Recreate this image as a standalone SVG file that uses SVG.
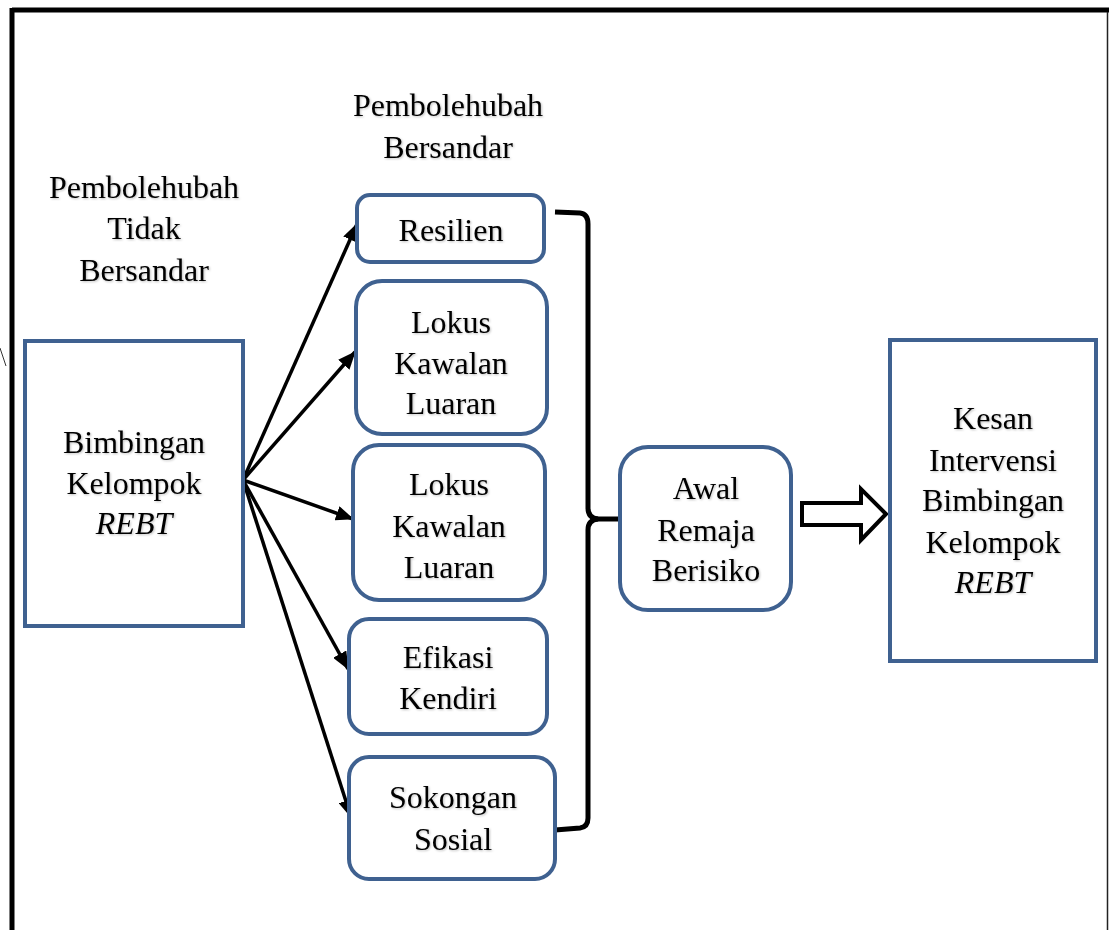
<svg xmlns="http://www.w3.org/2000/svg" width="1109" height="930" viewBox="0 0 1109 930">
<style>
.box{fill:#fff;stroke:#3F6190;stroke-width:4}
.t{font-family:"Liberation Serif","Times New Roman",serif;font-size:32px;fill:#000;text-anchor:middle;filter:url(#sh)}
.i{font-style:italic}
.con{stroke:#000;stroke-width:3.5;fill:none}
.brace{stroke:#000;stroke-width:5;fill:none}
</style>
<defs>
<filter id="sh" x="-10%" y="-30%" width="130%" height="160%">
<feDropShadow dx="1" dy="1" stdDeviation="1" flood-color="#000" flood-opacity="0.25"/>
</filter>
<marker id="ah2" markerWidth="18" markerHeight="15" refX="17" refY="7.5" orient="auto" markerUnits="userSpaceOnUse" viewBox="0 0 18 15">
<path d="M0,0 L18,7.5 L0,15 z" fill="#000"/>
</marker>
</defs>
<rect width="1109" height="930" fill="#fff"/>
<g id="frame">
<line x1="12" y1="10" x2="1109" y2="10" stroke="#000" stroke-width="5"/>
<line x1="12" y1="8" x2="12" y2="930" stroke="#000" stroke-width="5"/>
<line x1="1107.5" y1="12" x2="1107.5" y2="930" stroke="#222" stroke-width="1.5"/>
<line x1="0" y1="348" x2="6" y2="366" stroke="#333" stroke-width="1"/>
</g>
<g id="labels">
<text class="t" x="448" y="116">Pembolehubah</text>
<text class="t" x="448" y="158">Bersandar</text>
<text class="t" x="144" y="198">Pembolehubah</text>
<text class="t" x="144" y="239">Tidak</text>
<text class="t" x="144" y="281">Bersandar</text>
</g>
<g id="connectors">
<line class="con" x1="243" y1="480" x2="357" y2="224" marker-end="url(#ah2)"/>
<line class="con" x1="243" y1="480" x2="355" y2="352" marker-end="url(#ah2)"/>
<line class="con" x1="243" y1="480" x2="353" y2="519" marker-end="url(#ah2)"/>
<line class="con" x1="243" y1="480" x2="348" y2="669" marker-end="url(#ah2)"/>
<line class="con" x1="243" y1="480" x2="351" y2="817" marker-end="url(#ah2)"/>
<path class="brace" d="M555,212 L580,213 Q588,214 588,224 L588,508 Q588,518 598,519 Q588,520 588,530 L588,818 Q588,827 580,828 L555,830"/>
<line class="brace" x1="596" y1="519" x2="621" y2="519"/>
<path d="M802,503 L861,503 L861,489 L886,514 L861,540 L861,525 L802,525 Z" fill="#fff" stroke="#000" stroke-width="4" stroke-linejoin="miter"/>
</g>
<g id="n-bimbingan">
<rect class="box" x="25" y="341" width="218" height="285"/>
<text class="t" x="134" y="453">Bimbingan</text>
<text class="t" x="134" y="494">Kelompok</text>
<text class="t i" x="134" y="534">REBT</text>
</g>
<g id="n-resilien">
<rect class="box" x="357" y="195" width="187" height="67" rx="13"/>
<text class="t" x="451" y="241">Resilien</text>
</g>
<g id="n-lokus1">
<rect class="box" x="356" y="281" width="191" height="153" rx="26"/>
<text class="t" x="451" y="333">Lokus</text>
<text class="t" x="451" y="374">Kawalan</text>
<text class="t" x="451" y="414">Luaran</text>
</g>
<g id="n-lokus2">
<rect class="box" x="353" y="445" width="192" height="155" rx="26"/>
<text class="t" x="449" y="495">Lokus</text>
<text class="t" x="449" y="537">Kawalan</text>
<text class="t" x="449" y="578">Luaran</text>
</g>
<g id="n-efikasi">
<rect class="box" x="349" y="619" width="198" height="115" rx="20"/>
<text class="t" x="448" y="668">Efikasi</text>
<text class="t" x="448" y="709">Kendiri</text>
</g>
<g id="n-sokongan">
<rect class="box" x="349" y="757" width="206" height="122" rx="20"/>
<text class="t" x="453" y="808">Sokongan</text>
<text class="t" x="453" y="850">Sosial</text>
</g>
<g id="n-awal">
<rect class="box" x="620" y="447" width="171" height="163" rx="28"/>
<text class="t" x="706" y="499">Awal</text>
<text class="t" x="706" y="541">Remaja</text>
<text class="t" x="706" y="581">Berisiko</text>
</g>
<g id="n-kesan">
<rect class="box" x="890" y="340" width="206" height="321"/>
<text class="t" x="993" y="429">Kesan</text>
<text class="t" x="993" y="471">Intervensi</text>
<text class="t" x="993" y="511">Bimbingan</text>
<text class="t" x="993" y="553">Kelompok</text>
<text class="t i" x="993" y="593">REBT</text>
</g>
</svg>
